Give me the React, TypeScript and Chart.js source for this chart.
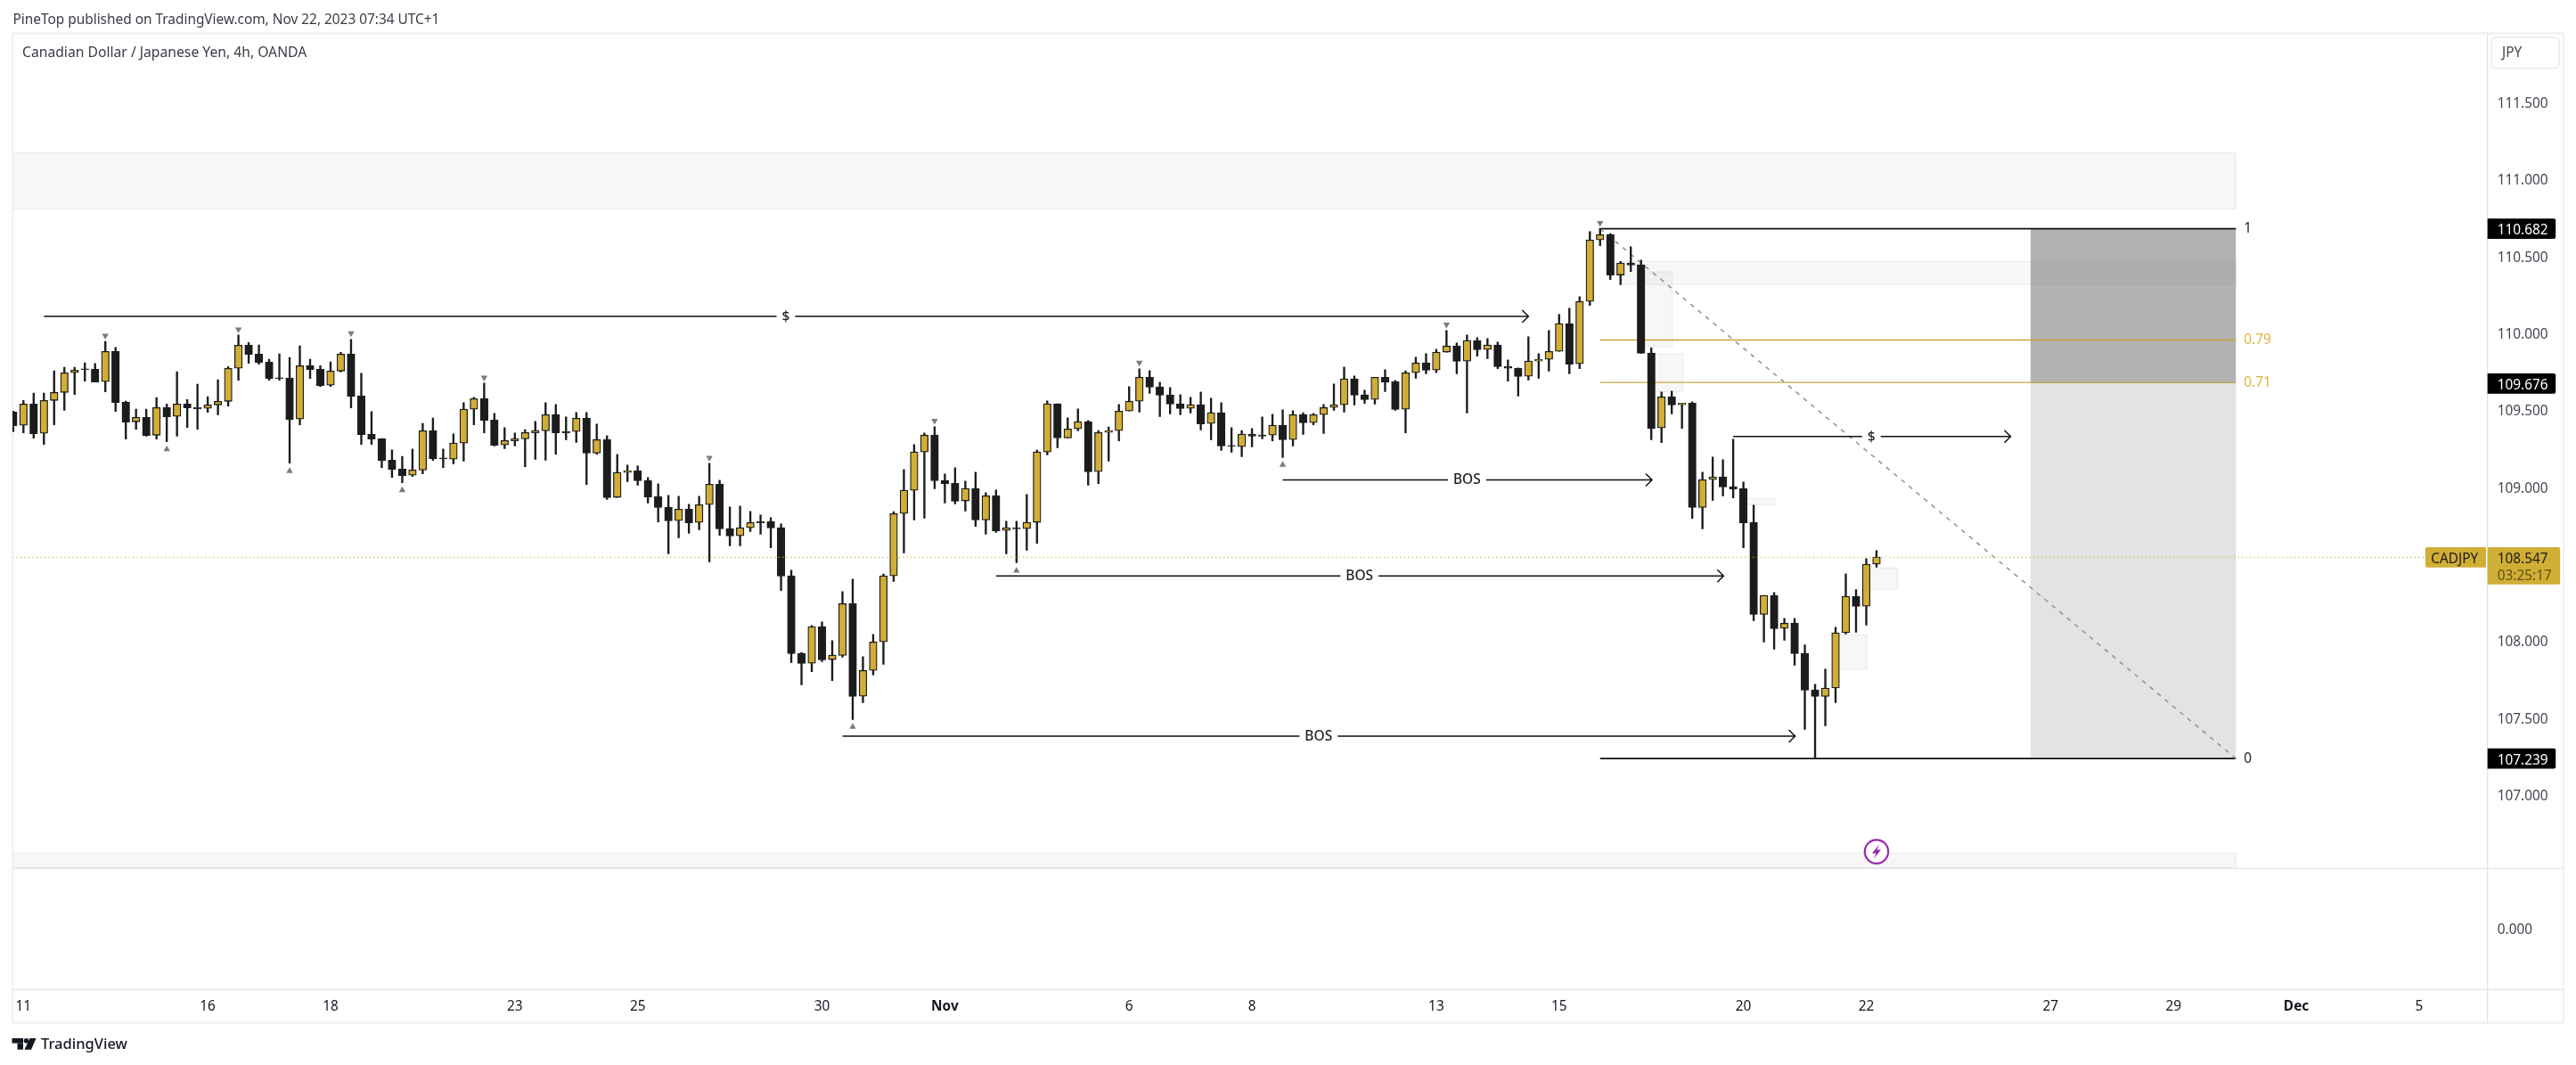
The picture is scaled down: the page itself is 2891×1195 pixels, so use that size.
import { useEffect, useRef } from "react";
import { Chart, registerables } from "chart.js";

Chart.register(...registerables);

const WIDTH = 2891;
const HEIGHT = 1195;
const FONT = '"Noto Sans", sans-serif';
const FONT_SIZE = 15.4;
const GOLD = "#d1ae35";
const DARK = "#1c1c1c";
const TEXT = "#434651";
// Noto's middle baseline sits a little high, push the price labels down to match
const LABEL_NUDGE = 0.008;

// 4h candles, one per index
const opens = [
  109.491, 109.404, 109.543, 109.352, 109.566, 109.618, 109.746, 109.771, 109.769, 109.688,
  109.885, 109.555, 109.427, 109.456, 109.340, 109.520, 109.462, 109.543, 109.520, 109.514,
  109.537, 109.560, 109.775, 109.925, 109.867, 109.815, 109.713, 109.711, 109.445, 109.792,
  109.769, 109.665, 109.757, 109.867, 109.595, 109.346, 109.317, 109.178, 109.120, 109.080,
  109.114, 109.369, 109.192, 109.185, 109.289, 109.509, 109.578, 109.439, 109.277, 109.304,
  109.316, 109.356, 109.368, 109.474, 109.364, 109.364, 109.451, 109.223, 109.312, 108.936,
  109.098, 109.109, 109.046, 108.941, 108.872, 108.785, 108.860, 108.773, 108.889, 109.022,
  108.733, 108.686, 108.739, 108.779, 108.779, 108.739, 108.426, 107.922, 107.858, 108.096,
  107.882, 107.909, 108.246, 107.644, 107.812, 107.997, 108.426, 108.831, 108.982, 109.231,
  109.341, 109.046, 109.028, 108.913, 108.994, 108.789, 108.947, 108.721, 108.739, 108.733,
  108.774, 109.231, 109.544, 109.322, 109.381, 109.428, 109.103, 109.358, 109.370, 109.497,
  109.561, 109.717, 109.654, 109.602, 109.544, 109.515, 109.538, 109.416, 109.486, 109.273,
  109.266, 109.347, 109.341, 109.341, 109.405, 109.312, 109.474, 109.422, 109.474, 109.520,
  109.538, 109.706, 109.602, 109.573, 109.717, 109.688, 109.509, 109.746, 109.810, 109.764,
  109.880, 109.920, 109.822, 109.955, 109.897, 109.926, 109.787, 109.775, 109.723, 109.822,
  109.833, 109.885, 110.065, 109.804, 110.209, 110.609, 110.644, 110.381, 110.459, 110.447,
  109.874, 109.387, 109.590, 109.538, 109.549, 108.870, 109.051, 109.069, 109.005, 108.993,
  108.774, 108.175, 108.299, 108.085, 108.119, 107.923, 107.685, 107.643, 107.697, 108.056,
  108.293, 108.229, 108.502,
];
const highs = [
  109.497, 109.566, 109.614, 109.614, 109.759, 109.782, 109.782, 109.811, 109.806, 109.950,
  109.910, 109.562, 109.510, 109.510, 109.585, 109.543, 109.753, 109.572, 109.672, 109.591,
  109.701, 109.786, 109.991, 109.943, 109.927, 109.833, 109.869, 109.846, 109.921, 109.834,
  109.792, 109.817, 109.879, 109.962, 109.742, 109.493, 109.319, 109.244, 109.203, 109.250,
  109.417, 109.452, 109.250, 109.349, 109.551, 109.586, 109.679, 109.482, 109.389, 109.354,
  109.376, 109.430, 109.551, 109.540, 109.459, 109.488, 109.488, 109.412, 109.337, 109.215,
  109.146, 109.140, 109.065, 109.024, 108.949, 108.943, 108.891, 108.943, 109.158, 109.047,
  108.874, 108.880, 108.845, 108.822, 108.804, 108.764, 108.463, 107.928, 108.104, 108.127,
  108.005, 108.324, 108.405, 107.901, 108.046, 108.438, 108.843, 109.117, 109.279, 109.355,
  109.395, 109.088, 109.129, 109.042, 109.100, 108.967, 108.984, 108.781, 108.781, 108.955,
  109.243, 109.563, 109.544, 109.453, 109.511, 109.436, 109.370, 109.393, 109.540, 109.656,
  109.771, 109.760, 109.685, 109.650, 109.603, 109.586, 109.621, 109.580, 109.551, 109.389,
  109.370, 109.383, 109.459, 109.476, 109.505, 109.499, 109.486, 109.482, 109.540, 109.673,
  109.783, 109.725, 109.632, 109.717, 109.766, 109.696, 109.758, 109.847, 109.870, 109.899,
  110.020, 109.939, 109.992, 109.974, 109.968, 109.945, 109.829, 109.777, 109.980, 109.870,
  110.020, 110.125, 110.165, 110.240, 110.663, 110.684, 110.650, 110.470, 110.565, 110.478,
  109.908, 109.621, 109.626, 109.549, 109.557, 109.099, 109.198, 109.181, 109.314, 109.036,
  108.886, 108.299, 108.318, 108.150, 108.150, 107.977, 107.722, 107.820, 108.092, 108.440,
  108.336, 108.538, 108.590,
];
const lows = [
  109.362, 109.356, 109.321, 109.280, 109.408, 109.501, 109.605, 109.692, 109.686, 109.622,
  109.495, 109.315, 109.379, 109.333, 109.315, 109.298, 109.333, 109.390, 109.379, 109.489,
  109.472, 109.529, 109.697, 109.807, 109.802, 109.697, 109.697, 109.159, 109.408, 109.709,
  109.657, 109.657, 109.750, 109.518, 109.280, 109.280, 109.130, 109.066, 109.031, 109.072,
  109.089, 109.176, 109.130, 109.154, 109.171, 109.408, 109.356, 109.270, 109.252, 109.270,
  109.136, 109.183, 109.177, 109.217, 109.310, 109.293, 109.020, 109.217, 108.922, 108.936,
  109.038, 109.015, 108.899, 108.777, 108.569, 108.673, 108.702, 108.725, 108.517, 108.690,
  108.621, 108.621, 108.714, 108.696, 108.609, 108.331, 107.862, 107.718, 107.804, 107.868,
  107.746, 107.897, 107.492, 107.602, 107.781, 107.851, 108.389, 108.575, 108.789, 108.801,
  108.992, 108.899, 108.893, 108.847, 108.748, 108.696, 108.708, 108.569, 108.511, 108.592,
  108.638, 109.212, 109.258, 109.322, 109.368, 109.015, 109.026, 109.171, 109.304, 109.497,
  109.490, 109.611, 109.461, 109.478, 109.472, 109.484, 109.374, 109.310, 109.241, 109.229,
  109.200, 109.264, 109.316, 109.304, 109.194, 109.270, 109.345, 109.408, 109.351, 109.501,
  109.490, 109.536, 109.547, 109.542, 109.623, 109.501, 109.356, 109.710, 109.739, 109.746,
  109.880, 109.739, 109.484, 109.854, 109.837, 109.773, 109.692, 109.594, 109.698, 109.710,
  109.756, 109.885, 109.739, 109.773, 110.184, 110.572, 110.352, 110.318, 110.404, 109.872,
  109.310, 109.292, 109.478, 109.385, 108.800, 108.731, 108.916, 108.945, 108.933, 108.609,
  108.135, 107.996, 107.950, 108.007, 107.845, 107.428, 107.239, 107.451, 107.602, 108.048,
  108.060, 108.106, 108.482,
];
const closes = [
  109.402, 109.543, 109.350, 109.566, 109.618, 109.746, 109.763, 109.765, 109.686, 109.885,
  109.553, 109.425, 109.456, 109.338, 109.520, 109.460, 109.543, 109.518, 109.512, 109.537,
  109.560, 109.775, 109.925, 109.865, 109.813, 109.709, 109.707, 109.443, 109.792, 109.767,
  109.663, 109.757, 109.867, 109.593, 109.344, 109.315, 109.176, 109.118, 109.078, 109.114,
  109.369, 109.188, 109.186, 109.289, 109.509, 109.578, 109.437, 109.275, 109.306, 109.318,
  109.358, 109.370, 109.474, 109.356, 109.356, 109.451, 109.223, 109.312, 108.934, 109.098,
  109.109, 109.044, 108.939, 108.870, 108.783, 108.860, 108.771, 108.889, 109.022, 108.731,
  108.685, 108.739, 108.773, 108.771, 108.737, 108.424, 107.920, 107.857, 108.096, 107.880,
  107.911, 108.246, 107.642, 107.812, 107.997, 108.426, 108.831, 108.982, 109.231, 109.341,
  109.044, 109.026, 108.911, 108.994, 108.789, 108.947, 108.719, 108.739, 108.731, 108.774,
  109.231, 109.544, 109.322, 109.381, 109.428, 109.102, 109.358, 109.370, 109.497, 109.561,
  109.717, 109.652, 109.600, 109.542, 109.513, 109.538, 109.414, 109.486, 109.270, 109.268,
  109.347, 109.333, 109.333, 109.405, 109.310, 109.474, 109.420, 109.474, 109.520, 109.538,
  109.706, 109.600, 109.571, 109.717, 109.686, 109.507, 109.746, 109.810, 109.762, 109.880,
  109.920, 109.820, 109.955, 109.895, 109.926, 109.785, 109.775, 109.721, 109.822, 109.833,
  109.885, 110.065, 109.802, 110.209, 110.609, 110.644, 110.381, 110.459, 110.445, 109.872,
  109.385, 109.590, 109.536, 109.549, 108.870, 109.051, 109.069, 109.003, 108.991, 108.771,
  108.175, 108.299, 108.083, 108.119, 107.921, 107.683, 107.643, 107.697, 108.056, 108.293,
  108.228, 108.502, 108.548,
];

// swing markers
const swingHighIdx = [9, 22, 33, 46, 68, 90, 110, 140, 155];
const swingHighPrice = [109.987, 110.028, 110.002, 109.715, 109.194, 109.434, 109.812, 110.059, 110.719];
const swingLowIdx = [15, 27, 38, 82, 98, 124];
const swingLowPrice = [109.248, 109.107, 108.983, 107.445, 108.459, 109.148];

// axes
const priceTicks = [107, 107.5, 108, 108.5, 109, 109.5, 110, 110.5, 111, 111.5];
const dateTickIdx = [1, 19, 31, 49, 61, 79, 91, 109, 121, 139, 151, 169, 181, 199, 211, 223, 235];
const dateTickLabels = ["11", "16", "18", "23", "25", "30", "Nov", "6", "8", "13", "15", "20", "22", "27", "29", "Dec", "5"];
const boldTicks = ["Nov", "Dec"];

// drawings: [from index, to index, upper price, lower price]
const zoneBoxes = [
  [-0.07, 217.1, 111.176, 110.811],
  [-0.07, 217.1, 106.625, 106.527],
  [157, 217.1, 110.469, 110.318],
  [159, 162.05, 110.401, 109.913],
  [160, 163.1, 109.867, 109.623],
  [169, 172.05, 108.929, 108.888],
  [178, 181.05, 108.042, 107.822],
  [181, 184.05, 108.477, 108.338],
];
const fibFrom = 155;
const fibBlockFrom = 197.05;
const fibTo = 217.1;
const fibHigh = 110.682;
const fibLow = 107.239;
const fibLevels = ["1", "0.79", "0.71", "0"];
const fibPrices = [110.682, 109.959, 109.683, 107.239];
const breakLabels = ["$", "BOS", "BOS", "BOS", "$"];
const breakFrom = [3, 124, 96, 81, 168];
const breakTo = [148, 160.07, 167.06, 174.05, 195.1];
const breakPrice = [110.112, 109.05, 108.425, 107.384, 109.332];
const breakLabelAt = [75.47, 142, 131.5, 127.5, 181.5];
const lastPrice = 108.547;
const alertIdx = 182;
const alertPrice = 106.634;

const axisBadges = [
  ["110.682", 110.682],
  ["109.676", 109.676],
  ["107.239", 107.239],
] as const;

function text(ctx: CanvasRenderingContext2D, s: string, x: number, y: number, color = TEXT, size = FONT_SIZE, align: CanvasTextAlign = "left", weight = "normal") {
  ctx.font = `${weight} ${size}px ${FONT}`;
  ctx.fillStyle = color;
  ctx.textAlign = align;
  ctx.textBaseline = "middle";
  ctx.fillText(s, x, y);
}

function rrect(ctx: CanvasRenderingContext2D, x: number, y: number, w: number, h: number, r: number | number[]) {
  ctx.beginPath();
  ctx.roundRect(x, y, w, h, r);
}

const drawings = {
  id: "drawings",
  beforeDatasetsDraw(chart: any) {
    const { ctx, scales, chartArea } = chart;
    const X = (v: number) => scales.x.getPixelForValue(v);
    const Y = (v: number) => scales.y.getPixelForValue(v);
    ctx.save();

    // position tool block
    ctx.fillStyle = "#b2b2b2";
    ctx.fillRect(X(fibBlockFrom), Y(fibHigh), X(fibTo) - X(fibBlockFrom), Y(109.676) - Y(fibHigh));
    ctx.fillStyle = "#e3e3e3";
    ctx.fillRect(X(fibBlockFrom), Y(109.676), X(fibTo) - X(fibBlockFrom), Y(fibLow) - Y(109.676));

    for (const [a, b, top, bottom] of zoneBoxes) {
      ctx.fillStyle = "rgba(120,120,120,0.06)";
      ctx.strokeStyle = "rgba(120,120,120,0.1)";
      ctx.lineWidth = 1.3;
      ctx.fillRect(X(a), Y(top), X(b) - X(a), Y(bottom) - Y(top));
      ctx.strokeRect(X(a), Y(top), X(b) - X(a), Y(bottom) - Y(top));
    }

    // fib levels
    fibPrices.forEach((p, i) => {
      const gold = i === 1 || i === 2;
      ctx.strokeStyle = gold ? "#c9a53a" : "#111111";
      ctx.lineWidth = gold ? 1.4 : 1.6;
      ctx.beginPath();
      ctx.moveTo(X(fibFrom), Y(p));
      ctx.lineTo(X(fibTo), Y(p));
      ctx.stroke();
      text(ctx, fibLevels[i], X(fibTo) + 9, Y(p) + 0.5, gold ? "#dcb53c" : DARK);
    });

    // fib trend line
    ctx.strokeStyle = "#8f8f8f";
    ctx.lineWidth = 1.5;
    ctx.setLineDash([5, 6]);
    ctx.beginPath();
    ctx.moveTo(X(fibFrom), Y(fibHigh));
    ctx.lineTo(X(fibTo), Y(fibLow));
    ctx.stroke();
    ctx.setLineDash([]);

    // arrows with labels
    breakLabels.forEach((label, i) => {
      const y = Y(breakPrice[i]);
      const x0 = X(breakFrom[i]);
      const x1 = X(breakTo[i]);
      const xl = X(breakLabelAt[i]);
      ctx.font = `500 15.5px ${FONT}`;
      const half = ctx.measureText(label).width / 2 + 6;
      ctx.strokeStyle = "#111111";
      ctx.lineWidth = 1.5;
      ctx.beginPath();
      ctx.moveTo(x0, y);
      ctx.lineTo(xl - half, y);
      ctx.moveTo(xl + half, y);
      ctx.lineTo(x1, y);
      ctx.moveTo(x1 - 7, y - 7);
      ctx.lineTo(x1, y);
      ctx.lineTo(x1 - 7, y + 7);
      ctx.stroke();
      text(ctx, label, xl, y + 0.5, "#1f1f1f", 15.5, "center", "500");
    });

    // pane dividers and frame
    ctx.strokeStyle = "#e0e3eb";
    ctx.lineWidth = 1.3;
    ctx.beginPath();
    ctx.moveTo(14, 974.3);
    ctx.lineTo(2877, 974.3);
    ctx.moveTo(14, chartArea.bottom);
    ctx.lineTo(2877, chartArea.bottom);
    ctx.moveTo(chartArea.right, 37);
    ctx.lineTo(chartArea.right, 1147);
    ctx.stroke();
    ctx.strokeStyle = "#eff1f6";
    ctx.lineWidth = 2.2;
    ctx.strokeRect(14, 37.5, 2863, 1110);
    ctx.restore();
  },
  afterDatasetsDraw(chart: any) {
    const { ctx, scales, chartArea } = chart;
    const X = (v: number) => scales.x.getPixelForValue(v);
    const Y = (v: number) => scales.y.getPixelForValue(v);
    ctx.save();

    // last price line
    ctx.strokeStyle = GOLD;
    ctx.lineWidth = 1.1;
    ctx.setLineDash([1.5, 3]);
    ctx.beginPath();
    ctx.moveTo(chartArea.left, Y(lastPrice));
    ctx.lineTo(chartArea.right - 68, Y(lastPrice));
    ctx.stroke();
    ctx.setLineDash([]);

    // alert icon
    const ax = X(alertIdx);
    const ay = Y(alertPrice);
    ctx.beginPath();
    ctx.arc(ax, ay, 13.2, 0, Math.PI * 2);
    ctx.fillStyle = "#ffffff";
    ctx.fill();
    ctx.strokeStyle = "#9c27b0";
    ctx.lineWidth = 2.2;
    ctx.stroke();
    ctx.fillStyle = "#9c27b0";
    ctx.beginPath();
    ctx.moveTo(ax + 3, ay - 8);
    ctx.lineTo(ax - 5, ay + 2);
    ctx.lineTo(ax - 0.5, ay + 2);
    ctx.lineTo(ax - 3, ay + 8);
    ctx.lineTo(ax + 5, ay - 2);
    ctx.lineTo(ax + 0.5, ay - 2);
    ctx.closePath();
    ctx.fill();
    ctx.restore();
  },
  afterDraw(chart: any) {
    const { ctx, scales, chartArea } = chart;
    const Y = (v: number) => scales.y.getPixelForValue(v);
    const axisX = chartArea.right;
    ctx.save();

    text(ctx, "PineTop published on TradingView.com, Nov 22, 2023 07:34 UTC+1", 14.5, 22.7, "#3a3c45");
    text(ctx, "Canadian Dollar / Japanese Yen, 4h, OANDA", 25, 60, "#3a3c45", 15.7);

    // currency button
    ctx.strokeStyle = "#eeeef3";
    ctx.lineWidth = 2;
    rrect(ctx, 2796, 42, 76, 34.7, 5);
    ctx.stroke();
    text(ctx, "JPY", 2808, 60, TEXT);

    text(ctx, "0.000", axisX + 11, 1044, TEXT);

    // axis badges
    for (const [label, p] of axisBadges) {
      ctx.fillStyle = "#000000";
      rrect(ctx, axisX, Y(p) - 11.4, 76.5, 22.8, [0, 2, 2, 0]);
      ctx.fill();
      text(ctx, label, axisX + 11, Y(p) + 2, "#ffffff");
    }

    // last price badge
    const ly = Y(lastPrice);
    ctx.fillStyle = GOLD;
    rrect(ctx, axisX, ly - 11.3, 81.5, 41.7, [0, 2, 2, 0]);
    ctx.fill();
    rrect(ctx, axisX - 69.7, ly - 11.3, 68, 22.7, [2, 0, 0, 2]);
    ctx.fill();
    text(ctx, "108.547", axisX + 11, ly + 2.5, "#1c1c1c");
    text(ctx, "03:25:17", axisX + 11, ly + 21, "#5f5119");
    text(ctx, "CADJPY", axisX - 63.5, ly + 2.5, "#1c1c1c");

    // TradingView logo
    ctx.fillStyle = "#131722";
    ctx.fillRect(13.5, 1165, 12.5, 5.5);
    ctx.fillRect(19.5, 1170.5, 6.5, 7.2);
    ctx.beginPath();
    ctx.arc(29.5, 1167.8, 2.8, 0, Math.PI * 2);
    ctx.fill();
    ctx.beginPath();
    ctx.moveTo(33.5, 1165);
    ctx.lineTo(40.5, 1165);
    ctx.lineTo(35, 1177.7);
    ctx.lineTo(27.5, 1177.7);
    ctx.closePath();
    ctx.fill();
    text(ctx, "TradingView", 46, 1172, "#131722", 16.5, "left", "500");
    ctx.restore();
  },
};

export default function App() {
  const ref = useRef<HTMLCanvasElement>(null);

  useEffect(() => {
    if (!ref.current) return;
    document.body.style.margin = "0";
    document.body.style.background = "#ffffff";
    const bars = opens.map((_, i) => i);
    const chart = new Chart(ref.current, {
      type: "bar",
      data: {
        datasets: [
          {
            type: "line",
            order: 0,
            showLine: false,
            data: swingHighIdx.map((x, i) => ({ x, y: swingHighPrice[i] })),
            pointStyle: "triangle",
            rotation: 180,
            pointRadius: 4.3,
            pointBackgroundColor: "#787b8a",
            pointBorderWidth: 0,
          },
          {
            type: "line",
            order: 0,
            showLine: false,
            data: swingLowIdx.map((x, i) => ({ x, y: swingLowPrice[i] })),
            pointStyle: "triangle",
            pointRadius: 4.3,
            pointBackgroundColor: "#787b8a",
            pointBorderWidth: 0,
          },
          {
            order: 1,
            grouped: false,
            barThickness: 8.6,
            data: bars.map((x) => ({ x, y: [opens[x], closes[x]] })),
            backgroundColor: bars.map((i) => (closes[i] >= opens[i] ? GOLD : DARK)),
            borderColor: DARK,
            borderWidth: 1.3,
            borderSkipped: false,
          },
          {
            order: 2,
            grouped: false,
            barThickness: 1.7,
            data: bars.map((x) => ({ x, y: [lows[x], highs[x]] })),
            backgroundColor: DARK,
            borderWidth: 0,
          },
        ] as any,
      },
      plugins: [drawings],
      options: {
        responsive: false,
        devicePixelRatio: 1,
        animation: false,
        events: [],
        layout: { padding: { left: 14, top: 38, right: 0, bottom: 0 } },
        plugins: { legend: { display: false }, tooltip: { enabled: false } },
        scales: {
          x: {
            type: "linear",
            offset: false,
            min: -0.07,
            max: 241.68,
            grid: { display: false, drawTicks: false },
            border: { display: false },
            afterFit: (s: any) => {
              s.height = HEIGHT - 1110.3;
            },
            afterBuildTicks: (s: any) => {
              s.ticks = dateTickIdx.map((value) => ({ value }));
            },
            ticks: {
              autoSkip: false,
              maxRotation: 0,
              padding: 10,
              color: "#131722",
              font: (c: any) => ({
                family: FONT,
                size: FONT_SIZE,
                weight: boldTicks.includes(dateTickLabels[dateTickIdx.indexOf(c.tick?.value)]) ? "bold" : "normal",
              }),
              callback: (v: any) => dateTickLabels[dateTickIdx.indexOf(Number(v))],
            },
          },
          y: {
            position: "right",
            min: 105.738,
            max: 111.948,
            grid: { display: false, drawTicks: false },
            border: { display: false },
            afterFit: (s: any) => {
              s.width = WIDTH - 2791.7;
            },
            afterBuildTicks: (s: any) => {
              s.ticks = priceTicks.map((value) => ({ value: value - LABEL_NUDGE }));
            },
            ticks: {
              padding: 11,
              color: TEXT,
              font: { family: FONT, size: FONT_SIZE },
              callback: (v: any) => (Number(v) + LABEL_NUDGE).toFixed(3),
            },
          },
        },
      } as any,
    });
    return () => {
      chart.destroy();
    };
  }, []);

  return (
    <div style={{ width: WIDTH, height: HEIGHT }}>
      <canvas ref={ref} width={WIDTH} height={HEIGHT} style={{ display: "block" }} />
    </div>
  );
}
